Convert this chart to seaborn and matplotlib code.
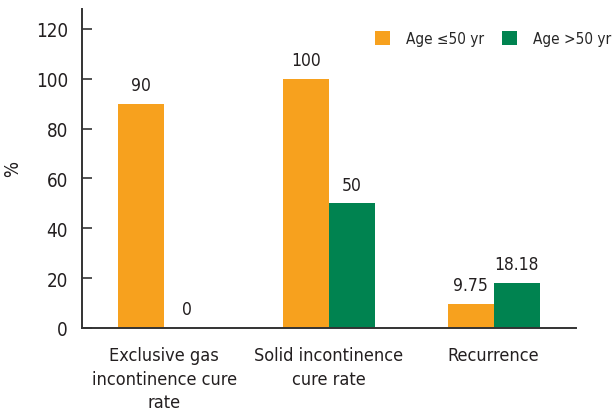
import matplotlib
matplotlib.use("Agg")
import matplotlib.pyplot as plt
import seaborn as sns
import pandas as pd

categories = ["Exclusive gas\nincontinence cure\nrate", "Solid incontinence\ncure rate", "Recurrence"]
groups = ["Age \u226450 yr", "Age >50 yr"]
young = [90, 100, 9.75]
old = [0, 50, 18.18]
labels_young = ["90", "100", "9.75"]
labels_old = ["0", "50", "18.18"]
yticks = [0, 20, 40, 60, 80, 100, 120]

df = pd.DataFrame({
    "cat": categories * 2,
    "grp": [groups[0]] * 3 + [groups[1]] * 3,
    "val": young + old,
})

sns.set_theme(style="white")
plt.rcParams["font.family"] = ["DejaVu Sans"]
plt.rcParams["font.stretch"] = "condensed"

fig = plt.figure(figsize=(6.13, 4.14), dpi=100)
ax = fig.add_axes([82/613, 1-329/414, (576-82)/613, (329-10)/414])

colors = ["#F7A11E", "#008350"]
sns.barplot(data=df, x="cat", y="val", hue="grp", palette=colors, width=0.56,
            ax=ax, saturation=1, edgecolor="none", legend=True)

for cont, labs in zip(ax.containers, [labels_young, labels_old]):
    ax.bar_label(cont, labels=labs, padding=7, fontsize=12.5, color="#231f20")

ax.set_xlim(-0.5, 2.5)
ax.set_ylim(0, 128)
ax.set_yticks(yticks)
ax.set_yticklabels([str(t) for t in yticks], fontsize=13.5, color="#231f20")
ax.set_xlabel("")
ax.set_ylabel("%", fontsize=13.5, color="#231f20", labelpad=10)

ax.set_xticks([0, 1, 2])
ax.set_xticklabels(categories, fontsize=13, color="#231f20", linespacing=1.4)
ax.set_xticks([0.5, 1.5, 2.5], minor=True)
ax.tick_params(axis="x", which="major", length=0, pad=13)
ax.tick_params(axis="x", which="minor", direction="in", length=6, width=1.2, color="#333333")
ax.tick_params(axis="y", direction="in", length=7, width=1.2, color="#333333", pad=10, left=True)

for s in ["top", "right"]:
    ax.spines[s].set_visible(False)
for s in ["left", "bottom"]:
    ax.spines[s].set_color("#333333")
    ax.spines[s].set_linewidth(1.4)

handles, lbls = ax.get_legend_handles_labels()
ax.legend(handles, lbls, loc="upper right", bbox_to_anchor=(611/613, 1-32/414),
          bbox_transform=fig.transFigure, ncol=2, frameon=False, fontsize=11,
          handlelength=1.0, handleheight=1.0, handletextpad=1.0, columnspacing=1.2,
          borderpad=0, borderaxespad=0)

fig.savefig("out.png", dpi=100)
